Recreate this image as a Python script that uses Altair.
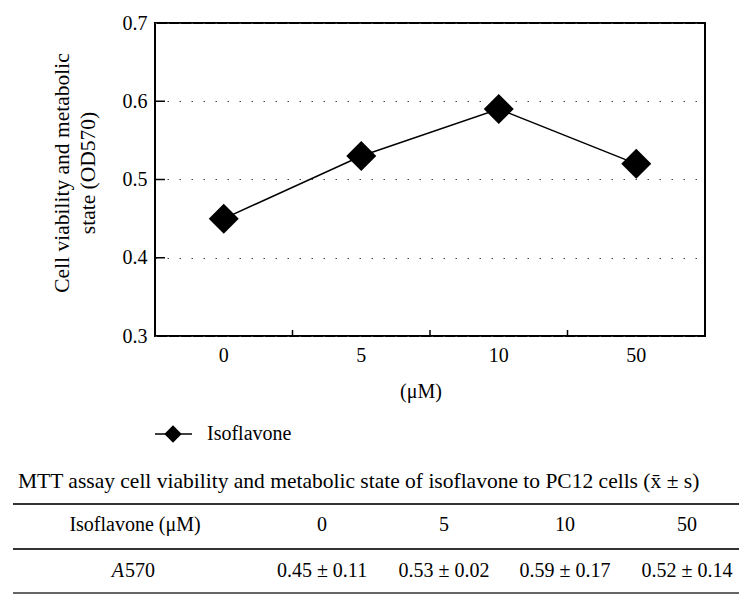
import altair as alt
import pandas as pd

# ---------------- data ----------------
concentrations = ["0", "5", "10", "50"]
od570_mean = [0.45, 0.53, 0.59, 0.52]
od570_sd = [0.11, 0.02, 0.17, 0.14]
y_ticks = [0.3, 0.4, 0.5, 0.6, 0.7]
series_name = "Isoflavone"
y_title = ["Cell viability and metabolic", "state (OD570)"]
x_title = "(μM)"
table_title = "MTT assay cell viability and metabolic state of isoflavone to PC12 cells (x̄ ± s)"
table_header = "Isoflavone (μM)"
row_label_italic = "A"
row_label_rest = "570"

# ---------------- layout ----------------
FONT = "Liberation Serif"
W, H = 550, 313
col_x = [167, 289, 410, 532]     # table column centres (px, relative to plot origin)
first_col_x = -20
header_y, value_y = 502, 548
rule_ys = [(481, 2.0), (526, 2.0), (570, 1.5)]
rule_x0, rule_x1 = -142, 584

df = pd.DataFrame({"conc": concentrations, "od": od570_mean})

xs = alt.X(
    "conc:N", sort=concentrations,
    scale=alt.Scale(type="band", paddingInner=0, paddingOuter=0),
    axis=alt.Axis(title=None, labelAngle=0, labelFontSize=20, labelPadding=9,
                  ticks=False, domain=False, labelFont=FONT, labelColor="black", grid=False),
)
ys = alt.Y(
    "od:Q", scale=alt.Scale(domain=[0.3, 0.7]),
    axis=alt.Axis(values=y_ticks, format=".1f", title=None, grid=True,
                  gridDash=[1.5, 10.5], gridColor="#444444", gridWidth=1,
                  ticks=False, domain=False, labelPadding=8, labelFontSize=20,
                  labelFont=FONT, labelColor="black"),
)

base = alt.Chart(df)
line = base.mark_line(color="black", strokeWidth=1.5).encode(x=xs, y=ys)
pts = base.mark_point(shape="diamond", filled=True, size=900, color="black", opacity=1).encode(x=xs, y=ys)

# inward ticks
ytick_df = pd.DataFrame({"od": y_ticks[1:-1]})
yticks = alt.Chart(ytick_df).mark_rule(color="black", strokeWidth=1.5).encode(
    y=alt.Y("od:Q"), x=alt.value(0), x2=alt.value(10))
xticks = alt.Chart(df).transform_filter(alt.datum.conc != concentrations[0]).mark_rule(
    color="black", strokeWidth=1.5).encode(
    x=alt.X("conc:N", sort=concentrations, bandPosition=0),
    y=alt.value(H), y2=alt.value(H - 6))

# axis titles
one = pd.DataFrame({"t": [0]})
ytitle = alt.Chart(one).mark_text(
    text=y_title, angle=270, align="center", baseline="middle", font=FONT,
    fontSize=21.5, lineHeight=26, color="black").encode(x=alt.value(-92), y=alt.value(150))
xtitle = alt.Chart(one).mark_text(
    text=x_title, align="center", baseline="middle", font=FONT, fontSize=20,
    color="black").encode(x=alt.value(266), y=alt.value(369))

# legend
leg_df = pd.DataFrame({"s": [series_name]})
leg_line = alt.Chart(leg_df).mark_rule(color="black", strokeWidth=1.5).encode(
    x=alt.value(0), x2=alt.value(37), y=alt.value(411))
leg_pt = alt.Chart(leg_df).mark_point(shape="diamond", filled=True, size=300, color="black", opacity=1).encode(
    x=alt.value(18), y=alt.value(411))
leg_txt = alt.Chart(leg_df).mark_text(align="left", baseline="middle", font=FONT, fontSize=20, color="black").encode(
    x=alt.value(52), y=alt.value(411), text="s:N")

# table
layers = [line, pts, yticks, xticks, ytitle, xtitle, leg_line, leg_pt, leg_txt]
layers.append(alt.Chart(one).mark_text(text=table_title, align="left", baseline="middle", font=FONT,
                                       fontSize=21.5, color="black").encode(x=alt.value(-137), y=alt.value(459)))
for ry, sw in rule_ys:
    layers.append(alt.Chart(one).mark_rule(color="#333333", strokeWidth=sw).encode(
        x=alt.value(rule_x0), x2=alt.value(rule_x1), y=alt.value(ry)))
layers.append(alt.Chart(one).mark_text(text=table_header, align="center", baseline="middle", font=FONT,
                                       fontSize=20, color="black").encode(x=alt.value(first_col_x), y=alt.value(header_y)))
layers.append(alt.Chart(one).mark_text(text=row_label_italic, align="right", baseline="middle", font=FONT,
                                       fontStyle="italic", fontSize=20, color="black").encode(
    x=alt.value(first_col_x - 11), y=alt.value(value_y)))
layers.append(alt.Chart(one).mark_text(text=row_label_rest, align="left", baseline="middle", font=FONT,
                                       fontSize=20, color="black").encode(
    x=alt.value(first_col_x - 10), y=alt.value(value_y)))
for i, c in enumerate(concentrations):
    layers.append(alt.Chart(one).mark_text(text=c, align="center", baseline="middle", font=FONT,
                                           fontSize=20, color="black").encode(x=alt.value(col_x[i]), y=alt.value(header_y)))
    cell = f"{od570_mean[i]:.2f} ± {od570_sd[i]:.2f}"
    layers.append(alt.Chart(one).mark_text(text=cell, align="center", baseline="middle", font=FONT,
                                           fontSize=20, color="black").encode(x=alt.value(col_x[i]), y=alt.value(value_y)))

chart = alt.layer(*layers).properties(
    width=W, height=H,
    background="white",
    autosize=alt.AutoSizeParams(type="none"),
    padding={"left": 147, "top": 15, "right": 35, "bottom": 264},
).configure_view(stroke="black", strokeWidth=2)

chart.save("out.html", embed_options={"renderer": "svg", "actions": False})
